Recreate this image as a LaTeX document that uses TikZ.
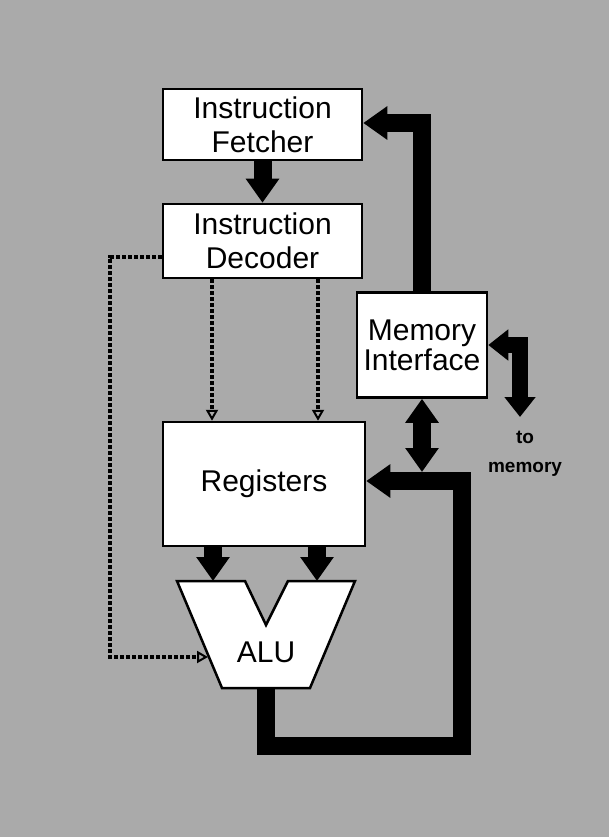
\documentclass[tikz,border=0pt]{standalone}
\usepackage{fontspec}
\setmainfont{Liberation Sans}
\usetikzlibrary{positioning,calc}
\usetikzlibrary{arrows.meta}
\definecolor{NoiseGray}{RGB}{170,170,170}
\tikzset{
  unit/.style={draw=black,fill=white,line width=2.5pt,inner sep=0pt,align=center,
    font=\fontsize{30}{34}\selectfont},
  bus/.style={draw=black,line width=18pt,-{Triangle[length=24pt,width=32pt]}},
  ctrl/.style={draw=black,line width=3.5pt,dash pattern=on 4pt off 2pt,
    -{Triangle[open,length=11pt,width=12pt,line width=2pt]}},
}

\begin{document}
\begin{tikzpicture}[x=1pt,y=-1pt]
\fill[NoiseGray] (0,0) rectangle (609,837);
\node[unit,minimum width=199pt,minimum height=71pt] (fetch) at (262.5,124.5) {Instruction\\Fetcher};
\node[unit,minimum width=199pt,minimum height=74pt] (decode) at (262.5,241) {Instruction\\Decoder};
\node[unit,minimum width=202pt,minimum height=124pt] (regs) at (264,484) {Registers};
\node[unit,minimum width=130pt,minimum height=105pt,font=\fontsize{30}{30}\selectfont] (mem) at (422,345) {Memory\\Interface};
% alu
\draw[line width=2.5pt,fill=white] (177,581) -- (245,581) -- (266,625) -- (288,581)
  -- (355,581) -- (310,688) -- (222,688) -- cycle;
\node (alu) at (266,652) {\fontsize{30}{34}\selectfont ALU};
\coordinate (alu-l) at (213,581);
\coordinate (alu-r) at (317,581);
\coordinate (alu-b) at (266,688);
\coordinate (alu-w) at (208,657);
\node[font=\bfseries\fontsize{19}{29}\selectfont,align=center,inner sep=0pt] (tomem) at (525,454) {to\\memory};
\coordinate (memout) at (520,417);
\coordinate (membus) at (422,472);
% buses
\draw[bus] (fetch) -- (decode);
\draw[bus] (mem.north) -- (422,123) -- (fetch.east |- 0,123);
\draw[bus,{Triangle[length=24pt,width=32pt]}-{Triangle[length=24pt,width=32pt]}] (mem.south) -- (membus);
\draw[bus,line width=16pt,{Triangle[length=20pt,width=30pt]}-{Triangle[length=20pt,width=30pt]}] (mem.east) -- (520,345) -- (memout);
\draw[bus] (alu-b) -- (266,746) -- (462,746) -- (462,481) -- (regs.east |- 0,481);
\draw[bus] (regs.south -| alu-l) -- (alu-l);
\draw[bus] (regs.south -| alu-r) -- (alu-r);
% control lines
\draw[ctrl] (decode.south -| 212,0) -- (regs.north -| 212,0);
\draw[ctrl] (decode.south -| 318,0) -- (regs.north -| 318,0);
\draw[ctrl] (decode.west |- 0,257) -- (110,257) -- (110,657) -- (alu-w);
\end{tikzpicture}
\end{document}
